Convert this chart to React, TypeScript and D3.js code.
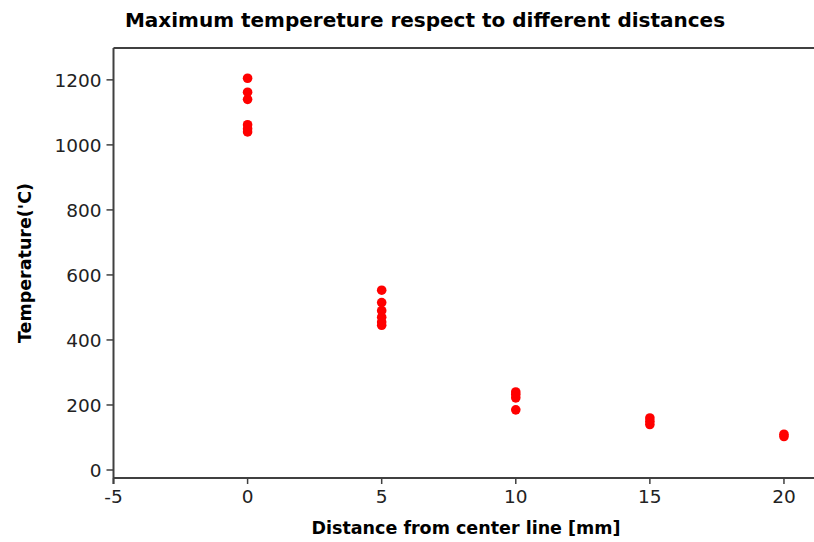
import React from "react";
import * as d3 from "d3";

const distances = [0, 0, 0, 0, 0, 0, 5, 5, 5, 5, 5, 5, 10, 10, 10, 10, 15, 15, 15, 20, 20];
const temperatures = [1205, 1162, 1140, 1062, 1050, 1040, 553, 515, 490, 470, 455, 445, 240, 232, 222, 185, 160, 150, 140, 110, 103];
const xTicks = [-5, 0, 5, 10, 15, 20];
const yTicks = [0, 200, 400, 600, 800, 1000, 1200];
const title = "Maximum tempereture respect to different distances";
const xLabel = "Distance from center line [mm]";
const yLabel = "Temperature('C)";

const W = 814;
const H = 542;
const left = 113.5;
const right = 814;
const top = 48;
const bottom = 478;

export default function App() {
  const x = d3.scaleLinear().domain([-5, 21.12]).range([left, right]);
  const y = d3.scaleLinear().domain([-24.6, 1298]).range([bottom, top]);
  const pts = distances.map((d, i) => ({ d, t: temperatures[i] }));
  const axisColor = "#404040";
  const font = "'DejaVu Sans', Verdana, sans-serif";
  return (
    <svg width={W} height={H} style={{ position: "absolute", left: 0, top: 0, background: "#fff" }}>
      <rect x={0} y={0} width={W} height={H} fill="#fff" />
      <text x={425} y={27} textAnchor="middle" fontFamily={font} fontWeight="bold" fontSize={20} fill="#000">
        {title}
      </text>
      {/* frame */}
      <line x1={left} x2={right} y1={top} y2={top} stroke={axisColor} strokeWidth={2} />
      <line x1={left} x2={left} y1={top} y2={bottom + 6} stroke={axisColor} strokeWidth={2} />
      <line x1={left} x2={right} y1={bottom} y2={bottom} stroke={axisColor} strokeWidth={2} />
      {yTicks.map((t) => (
        <g key={"y" + t}>
          <line x1={left - 7} x2={left} y1={y(t)} y2={y(t)} stroke={axisColor} strokeWidth={1.5} />
          <text x={left - 12} y={y(t)} dy="0.36em" textAnchor="end" fontFamily={font} fontSize={18.5} fill="#222">
            {t}
          </text>
        </g>
      ))}
      {xTicks.map((t) => (
        <g key={"x" + t}>
          <line x1={x(t)} x2={x(t)} y1={bottom} y2={bottom + 6} stroke={axisColor} strokeWidth={1.5} />
          <text x={x(t)} y={503} textAnchor="middle" fontFamily={font} fontSize={18.5} fill="#222">
            {t}
          </text>
        </g>
      ))}
      <text x={466} y={534} textAnchor="middle" fontFamily={font} fontWeight="bold" fontSize={17.5} fill="#000">
        {xLabel}
      </text>
      <text
        transform={`translate(31, ${(top + bottom) / 2}) rotate(-90)`}
        textAnchor="middle"
        fontFamily={font}
        fontWeight="bold"
        fontSize={17.5}
        fill="#000"
      >
        {yLabel}
      </text>
      {pts.map((p, i) => (
        <circle key={i} cx={x(p.d)} cy={y(p.t)} r={4.8} fill="#ff0000" />
      ))}
    </svg>
  );
}
